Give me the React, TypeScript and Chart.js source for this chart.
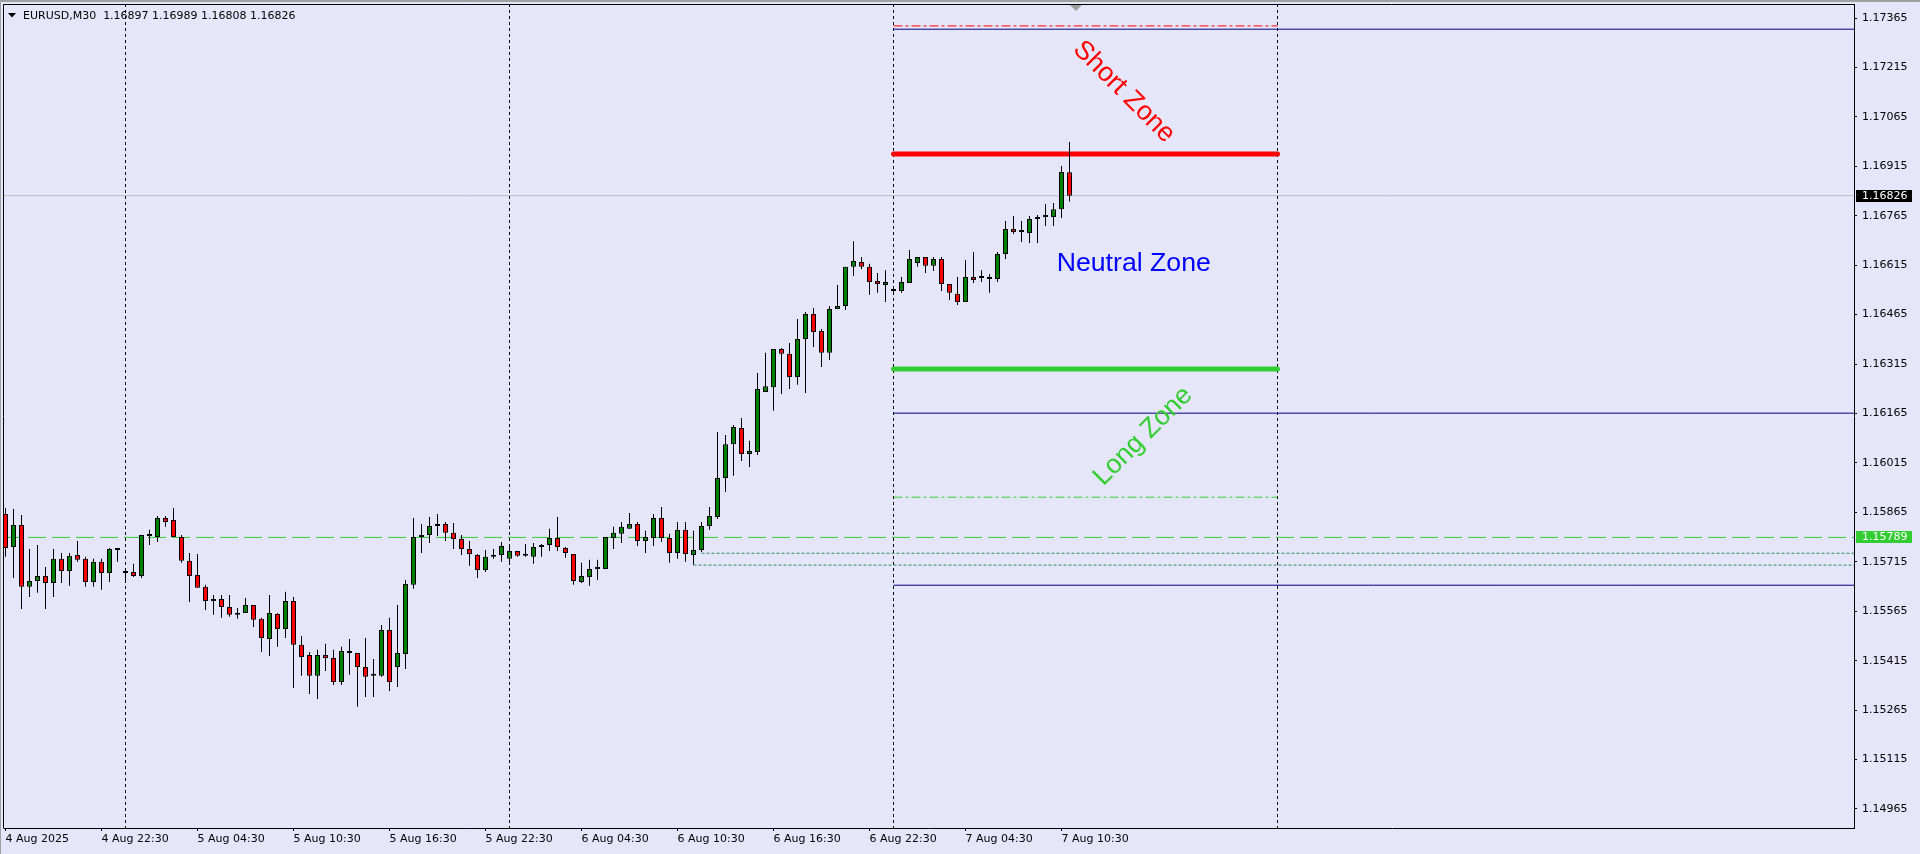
import React, { useEffect, useRef } from 'react';
import { Chart, registerables } from 'chart.js';

Chart.register(...registerables);

// ---- EURUSD M30 candles, first bar 4 Aug 2025 16:30 ----
const opens = [
  1.15860, 1.15760, 1.15827, 1.15639, 1.15657, 1.15672, 1.15651, 1.15724, 1.15687, 1.15736,
  1.15724, 1.15654, 1.15715, 1.15681, 1.15754, 1.15681, 1.15684, 1.15672, 1.15796, 1.15790,
  1.15848, 1.15842, 1.15790, 1.15718, 1.15675, 1.15639, 1.15596, 1.15602, 1.15578, 1.15554,
  1.15560, 1.15584, 1.15542, 1.15481, 1.15557, 1.15511, 1.15596, 1.15463, 1.15432, 1.15369,
  1.15432, 1.15423, 1.15350, 1.15438, 1.15438, 1.15396, 1.15369, 1.15369, 1.15508, 1.15396,
  1.15435, 1.15645, 1.15790, 1.15796, 1.15824, 1.15830, 1.15803, 1.15784, 1.15754, 1.15736,
  1.15690, 1.15730, 1.15736, 1.15724, 1.15748, 1.15733, 1.15730, 1.15760, 1.15766, 1.15787,
  1.15757, 1.15739, 1.15654, 1.15669, 1.15693, 1.15693, 1.15787, 1.15800, 1.15815, 1.15830,
  1.15778, 1.15787, 1.15848, 1.15787, 1.15742, 1.15812, 1.15736, 1.15751, 1.15824, 1.15851,
  1.15969, 1.16072, 1.16121, 1.16042, 1.16048, 1.16230, 1.16245, 1.16361, 1.16346, 1.16276,
  1.16391, 1.16467, 1.16415, 1.16349, 1.16482, 1.16491, 1.16610, 1.16625, 1.16610, 1.16567,
  1.16555, 1.16537, 1.16537, 1.16561, 1.16622, 1.16640, 1.16613, 1.16634, 1.16558, 1.16528,
  1.16503, 1.16579, 1.16576, 1.16573, 1.16573, 1.16649, 1.16725, 1.16716, 1.16713, 1.16755,
  1.16761, 1.16761, 1.16785, 1.16897,
];
const highs = [
  1.15878, 1.15875, 1.15857, 1.15754, 1.15766, 1.15699, 1.15754, 1.15742, 1.15742, 1.15778,
  1.15730, 1.15724, 1.15724, 1.15757, 1.15757, 1.15696, 1.15709, 1.15796, 1.15812, 1.15854,
  1.15854, 1.15878, 1.15796, 1.15742, 1.15739, 1.15645, 1.15614, 1.15614, 1.15614, 1.15575,
  1.15605, 1.15584, 1.15545, 1.15614, 1.15560, 1.15624, 1.15608, 1.15490, 1.15441, 1.15448,
  1.15466, 1.15448, 1.15457, 1.15481, 1.15438, 1.15484, 1.15420, 1.15523, 1.15545, 1.15584,
  1.15660, 1.15848, 1.15830, 1.15851, 1.15860, 1.15836, 1.15833, 1.15796, 1.15778, 1.15739,
  1.15751, 1.15754, 1.15775, 1.15760, 1.15748, 1.15769, 1.15772, 1.15769, 1.15815, 1.15851,
  1.15760, 1.15739, 1.15712, 1.15721, 1.15721, 1.15790, 1.15821, 1.15836, 1.15863, 1.15836,
  1.15809, 1.15860, 1.15881, 1.15800, 1.15836, 1.15836, 1.15809, 1.15836, 1.15881, 1.16109,
  1.16100, 1.16130, 1.16151, 1.16082, 1.16288, 1.16349, 1.16361, 1.16364, 1.16379, 1.16452,
  1.16473, 1.16485, 1.16421, 1.16491, 1.16555, 1.16610, 1.16688, 1.16640, 1.16619, 1.16591,
  1.16600, 1.16549, 1.16579, 1.16661, 1.16640, 1.16640, 1.16640, 1.16640, 1.16558, 1.16579,
  1.16631, 1.16655, 1.16600, 1.16588, 1.16655, 1.16749, 1.16764, 1.16749, 1.16764, 1.16767,
  1.16801, 1.16804, 1.16916, 1.16989,
];
const lows = [
  1.15730, 1.15666, 1.15572, 1.15608, 1.15621, 1.15572, 1.15608, 1.15651, 1.15642, 1.15715,
  1.15639, 1.15639, 1.15630, 1.15654, 1.15715, 1.15651, 1.15669, 1.15666, 1.15766, 1.15775,
  1.15821, 1.15790, 1.15712, 1.15593, 1.15636, 1.15569, 1.15554, 1.15545, 1.15548, 1.15542,
  1.15560, 1.15517, 1.15441, 1.15429, 1.15457, 1.15484, 1.15332, 1.15369, 1.15314, 1.15299,
  1.15384, 1.15341, 1.15341, 1.15372, 1.15275, 1.15305, 1.15305, 1.15366, 1.15323, 1.15335,
  1.15390, 1.15633, 1.15742, 1.15772, 1.15793, 1.15778, 1.15754, 1.15736, 1.15703, 1.15666,
  1.15684, 1.15724, 1.15715, 1.15709, 1.15730, 1.15730, 1.15709, 1.15730, 1.15748, 1.15748,
  1.15727, 1.15645, 1.15651, 1.15642, 1.15660, 1.15693, 1.15754, 1.15772, 1.15815, 1.15763,
  1.15742, 1.15763, 1.15775, 1.15712, 1.15724, 1.15715, 1.15706, 1.15745, 1.15812, 1.15845,
  1.15927, 1.15976, 1.16021, 1.16003, 1.16039, 1.16230, 1.16173, 1.16224, 1.16239, 1.16252,
  1.16227, 1.16367, 1.16306, 1.16327, 1.16482, 1.16479, 1.16582, 1.16603, 1.16525, 1.16531,
  1.16503, 1.16525, 1.16531, 1.16561, 1.16610, 1.16591, 1.16597, 1.16537, 1.16509, 1.16494,
  1.16503, 1.16561, 1.16564, 1.16531, 1.16564, 1.16634, 1.16710, 1.16685, 1.16682, 1.16682,
  1.16734, 1.16734, 1.16758, 1.16808,
];
const closes = [
  1.15757, 1.15827, 1.15639, 1.15657, 1.15672, 1.15651, 1.15724, 1.15687, 1.15733, 1.15721,
  1.15654, 1.15715, 1.15681, 1.15754, 1.15751, 1.15681, 1.15672, 1.15796, 1.15793, 1.15848,
  1.15836, 1.15790, 1.15718, 1.15672, 1.15636, 1.15596, 1.15602, 1.15578, 1.15554, 1.15560,
  1.15584, 1.15539, 1.15484, 1.15560, 1.15511, 1.15596, 1.15463, 1.15426, 1.15369, 1.15432,
  1.15423, 1.15350, 1.15444, 1.15438, 1.15396, 1.15366, 1.15369, 1.15508, 1.15350, 1.15438,
  1.15648, 1.15790, 1.15796, 1.15824, 1.15830, 1.15803, 1.15784, 1.15754, 1.15739, 1.15690,
  1.15730, 1.15736, 1.15763, 1.15748, 1.15733, 1.15733, 1.15760, 1.15766, 1.15787, 1.15760,
  1.15742, 1.15657, 1.15672, 1.15693, 1.15693, 1.15790, 1.15803, 1.15821, 1.15830, 1.15778,
  1.15790, 1.15848, 1.15787, 1.15742, 1.15812, 1.15739, 1.15751, 1.15824, 1.15854, 1.15969,
  1.16072, 1.16124, 1.16042, 1.16051, 1.16239, 1.16248, 1.16361, 1.16346, 1.16276, 1.16391,
  1.16467, 1.16412, 1.16349, 1.16482, 1.16491, 1.16610, 1.16628, 1.16610, 1.16564, 1.16558,
  1.16564, 1.16537, 1.16564, 1.16634, 1.16640, 1.16613, 1.16634, 1.16558, 1.16531, 1.16503,
  1.16579, 1.16570, 1.16576, 1.16573, 1.16649, 1.16725, 1.16716, 1.16716, 1.16755, 1.16761,
  1.16761, 1.16785, 1.16898, 1.16826,
];

// ---- axes ----
const xTickIndex = [0, 12, 24, 36, 48, 60, 72, 84, 96, 108, 120, 132];
const xTickLabels = [
  '4 Aug 2025', '4 Aug 22:30', '5 Aug 04:30', '5 Aug 10:30', '5 Aug 16:30', '5 Aug 22:30',
  '6 Aug 04:30', '6 Aug 10:30', '6 Aug 16:30', '6 Aug 22:30', '7 Aug 04:30', '7 Aug 10:30',
];
const yTicks = [
  1.14965, 1.15115, 1.15265, 1.15415, 1.15565, 1.15715, 1.15865, 1.16015, 1.16165,
  1.16315, 1.16465, 1.16615, 1.16765, 1.16915, 1.17065, 1.17215, 1.17365,
];
const X_MIN = -0.1875;
const X_MAX = 231.0625;
const Y_MIN = 1.149073;
const Y_MAX = 1.174075;

// ---- chart objects ----
const dayStarts = [15, 63, 111, 159]; // 5, 6, 7, 8 Aug 00:00
const zoneFrom = 111;
const zoneTo = 159;
const shortLevel = 1.16952;
const longLevel = 1.16300;
const shortDashDotLevel = 1.17341;
const longDashDotLevel = 1.15911;
const navyRayLevels = [1.17331, 1.16166, 1.15644];
const pivotLevel = 1.15789;
const supportLevels = [1.15741, 1.15705];
const supportFrom = [87, 86];
const bidPrice = 1.16826;
const headerText = 'EURUSD,M30  1.16897 1.16989 1.16808 1.16826';

const UI_FONT = '"DejaVu Sans", Verdana, sans-serif';
const ZONE_FONT = '26.67px "Liberation Sans", Arial, sans-serif';

function hline(price: number, from: number, to: number, color: string, width: number, dash: number[], order: number, cap = 'butt') {
  return {
    type: 'line' as const,
    data: [{ x: from, y: price }, { x: to, y: price }],
    borderColor: color,
    borderWidth: width,
    borderDash: dash,
    borderCapStyle: cap,
    pointRadius: 0,
    fill: false,
    tension: 0,
    order,
  };
}

const decorPlugin = {
  id: 'decor',
  beforeDraw(chart: any) {
    const { ctx, width, height } = chart;
    ctx.save();
    ctx.fillStyle = '#e6e6fa';
    ctx.fillRect(0, 0, width, height);
    ctx.fillStyle = '#a0a0a0';
    ctx.fillRect(0, 0, width, 2);
    ctx.fillRect(0, 0, 1, height);
    ctx.restore();
  },
  afterDatasetsDraw(chart: any) {
    const { ctx } = chart;
    const xs = chart.scales.x;
    const ys = chart.scales.y;
    const area = chart.chartArea;
    ctx.save();
    ctx.beginPath();
    ctx.rect(area.left, area.top, area.right - area.left, area.bottom - area.top);
    ctx.clip();
    ctx.font = ZONE_FONT;
    // Short Zone
    ctx.save();
    ctx.translate(xs.getPixelForValue(139.8), ys.getPixelForValue(1.17141));
    ctx.rotate(Math.PI / 4);
    ctx.fillStyle = '#ff0000';
    ctx.textAlign = 'center';
    ctx.textBaseline = 'middle';
    ctx.fillText('Short Zone', 0, 0);
    ctx.restore();
    // Long Zone
    ctx.save();
    ctx.translate(xs.getPixelForValue(142.2), ys.getPixelForValue(1.16096));
    ctx.rotate(-Math.PI / 4);
    ctx.fillStyle = '#32cd32';
    ctx.textAlign = 'center';
    ctx.textBaseline = 'middle';
    ctx.fillText('Long Zone', 0, 0);
    ctx.restore();
    // Neutral Zone
    ctx.fillStyle = '#0000ff';
    ctx.textAlign = 'left';
    ctx.textBaseline = 'alphabetic';
    ctx.fillText('Neutral Zone', xs.getPixelForValue(131.4), ys.getPixelForValue(1.16598));
    // chart shift marker
    const mx = xs.getPixelForValue(133.8);
    ctx.fillStyle = '#a0a0a0';
    ctx.beginPath();
    ctx.moveTo(mx - 6, area.top + 1);
    ctx.lineTo(mx + 6, area.top + 1);
    ctx.lineTo(mx, area.top + 7);
    ctx.closePath();
    ctx.fill();
    ctx.restore();
  },
  afterDraw(chart: any) {
    const { ctx } = chart;
    const ys = chart.scales.y;
    const area = chart.chartArea;
    ctx.save();
    // left & top border of the plot
    ctx.strokeStyle = '#000';
    ctx.lineWidth = 1;
    ctx.beginPath();
    ctx.moveTo(3.5, area.bottom + 0.5);
    ctx.lineTo(3.5, 4.5);
    ctx.lineTo(area.right + 0.5, 4.5);
    ctx.stroke();
    // header
    ctx.fillStyle = '#000';
    ctx.beginPath();
    ctx.moveTo(8, 13);
    ctx.lineTo(16, 13);
    ctx.lineTo(12, 17.5);
    ctx.closePath();
    ctx.fill();
    ctx.font = '11px ' + UI_FONT;
    ctx.textAlign = 'left';
    ctx.textBaseline = 'alphabetic';
    ctx.fillText(headerText, 23, 19);
    // price labels on the axis
    const boxes = [
      { v: bidPrice, bg: '#000000' },
      { v: pivotLevel, bg: '#32cd32' },
    ];
    ctx.textBaseline = 'middle';
    for (const b of boxes) {
      const y = Math.round(ys.getPixelForValue(b.v));
      ctx.fillStyle = b.bg;
      ctx.fillRect(area.right + 2, y - 6, 56, 12);
      ctx.fillStyle = '#ffffff';
      ctx.fillText(b.v.toFixed(5), area.right + 8, y + 0.5);
    }
    ctx.restore();
  },
};

export default function App() {
  const ref = useRef<HTMLCanvasElement | null>(null);

  useEffect(() => {
    const canvas = ref.current;
    if (!canvas) return;
    const bodyColors = opens.map((o, i) => (closes[i] > o ? '#008000' : closes[i] < o ? '#ff0000' : '#000000'));
    const bodyData = opens.map((o, i) => ({ x: i, y: [o, closes[i]] }));
    const wickData = highs.map((h, i) => ({ x: i, y: [lows[i], h] }));

    const datasets: any[] = [
      {
        type: 'bar',
        data: bodyData,
        backgroundColor: bodyColors,
        borderColor: '#000000',
        borderWidth: 1,
        borderSkipped: false,
        barThickness: 5,
        minBarLength: 2,
        grouped: false,
        inflateAmount: 0,
        order: 0,
      },
      {
        type: 'bar',
        data: wickData,
        backgroundColor: '#000000',
        borderWidth: 0,
        barThickness: 1,
        grouped: false,
        inflateAmount: 0,
        order: 1,
      },
      hline(shortLevel, zoneFrom, zoneTo, '#ff0000', 5, [], 2, 'round'),
      hline(longLevel, zoneFrom, zoneTo, '#32cd32', 5, [], 2, 'round'),
      hline(shortDashDotLevel, zoneFrom, zoneTo, '#ff0000', 1, [9, 3, 3, 3], 3),
      hline(longDashDotLevel, zoneFrom, zoneTo, '#32cd32', 1, [9, 3, 3, 3], 3),
      ...navyRayLevels.map((v) => hline(v, zoneFrom, X_MAX, '#000080', 1, [], 3)),
      hline(pivotLevel, X_MIN, X_MAX, '#32cd32', 1, [18, 6], 4),
      ...supportLevels.map((v, k) => hline(v, supportFrom[k], X_MAX, '#2e8b57', 1, [3, 2], 4)),
      hline(bidPrice, X_MIN, X_MAX, '#c0c0c0', 1, [], 6),
      ...dayStarts.map((d) => ({
        type: 'line',
        data: [{ x: d, y: Y_MAX }, { x: d, y: Y_MIN }],
        borderColor: '#000000',
        borderWidth: 1,
        borderDash: [3, 3],
        pointRadius: 0,
        fill: false,
        order: 5,
      })),
    ];

    const chart = new Chart(canvas, {
      type: 'bar',
      data: { datasets },
      options: {
        animation: false,
        responsive: false,
        maintainAspectRatio: false,
        devicePixelRatio: 1,
        events: [],
        layout: { padding: { left: 4, top: 4, right: 0, bottom: 0 } },
        plugins: { legend: { display: false }, tooltip: { enabled: false }, title: { display: false } },
        scales: {
          x: {
            type: 'linear',
            position: 'bottom',
            min: X_MIN,
            max: X_MAX,
            offset: false,
            grid: { display: true, drawOnChartArea: false, drawTicks: true, tickLength: 3, color: '#000000', offset: false },
            border: { display: true, color: '#000000', width: 1 },
            ticks: {
              autoSkip: false,
              maxRotation: 0,
              minRotation: 0,
              align: 'start',
              padding: 2,
              color: '#000000',
              font: { family: UI_FONT, size: 11 },
              callback: (_v: any, i: number) => xTickLabels[i],
            },
            afterBuildTicks: (s: any) => {
              s.ticks = xTickIndex.map((v) => ({ value: v }));
            },
            afterFit: (s: any) => {
              s.height = 26;
              s.paddingLeft = 0;
              s.paddingRight = 0;
            },
          },
          y: {
            type: 'linear',
            position: 'right',
            min: Y_MIN,
            max: Y_MAX,
            grid: { display: true, drawOnChartArea: false, drawTicks: true, tickLength: 3, color: '#000000' },
            border: { display: true, color: '#000000', width: 1 },
            ticks: {
              autoSkip: false,
              padding: 5,
              color: '#000000',
              font: { family: UI_FONT, size: 11 },
              callback: (v: any) => Number(v).toFixed(5),
            },
            afterBuildTicks: (s: any) => {
              s.ticks = yTicks.map((v) => ({ value: v }));
            },
            afterFit: (s: any) => {
              s.width = 66;
              s.paddingTop = 0;
              s.paddingBottom = 0;
            },
          },
        },
      } as any,
      plugins: [decorPlugin],
    } as any);

    return () => chart.destroy();
  }, []);

  return (
    <div style={{ position: 'fixed', left: 0, top: 0, width: 1920, height: 854, background: '#e6e6fa', overflow: 'hidden' }}>
      <canvas ref={ref} width={1920} height={854} style={{ display: 'block', width: 1920, height: 854 }} />
    </div>
  );
}
